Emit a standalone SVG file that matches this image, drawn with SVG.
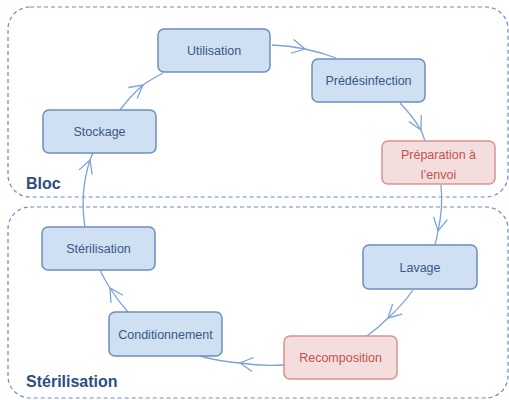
<svg xmlns="http://www.w3.org/2000/svg" width="509" height="400" viewBox="0 0 509 400">
<style>
.zone{fill:none;stroke:#6f8dba;stroke-width:1.2;stroke-dasharray:4 3}
.zl{font-family:"Liberation Sans",Arial,sans-serif;font-weight:bold;font-size:16px;fill:#2d4f80}
.n rect{fill:#cfe0f3;stroke:#6d8dbd;stroke-width:1.5}
.n text{font-family:"Liberation Sans",Arial,sans-serif;font-size:12.5px;fill:#3a5884;text-anchor:middle}
.r rect{fill:#f4dedd;stroke:#da918e}
.r text{fill:#c4504d}
.c path{fill:none;stroke:#7ba3d8;stroke-width:1.3;marker-mid:url(#chev)}
</style>
<defs>
<marker id="chev" markerUnits="userSpaceOnUse" markerWidth="30" markerHeight="30" viewBox="-15 -15 30 30" refX="0" refY="0" orient="auto" overflow="visible">
<path d="M-13 -7 L0 0 L-13 7" fill="none" stroke="#7ba3d8" stroke-width="1.3"/>
</marker>
</defs>
<rect class="zone" x="8" y="7" width="500" height="190" rx="22"/>
<rect class="zone" x="8" y="207" width="500" height="191" rx="22"/>
<text class="zl" x="26" y="189">Bloc</text>
<text class="zl" x="26" y="387">Stérilisation</text>
<g class="c">
<path d="M272 45 A180 160 0 0 1 305 49 A180 160 0 0 1 336 58"/>
<path d="M400 103 A180 160 0 0 1 421 130 A180 160 0 0 1 425 141"/>
<path d="M441 185 A180 160 0 0 1 438 231 A180 160 0 0 1 435 245"/>
<path d="M413 290 A180 160 0 0 1 388 318 A180 160 0 0 1 367 336"/>
<path d="M284 365 A180 160 0 0 1 240 363 A180 160 0 0 1 200 356"/>
<path d="M128 312 A180 160 0 0 1 110 288 A180 160 0 0 1 100 270"/>
<path d="M85 227 A180 160 0 0 1 90 160 A180 160 0 0 1 93 153"/>
<path d="M120 110 A180 160 0 0 1 143 85 A180 160 0 0 1 163 73"/>
</g>
<g id="utilisation" class="n"><rect x="158" y="29" width="112" height="43" rx="6"/><text x="214" y="55">Utilisation</text></g>
<g id="predesinfection" class="n"><rect x="312" y="59" width="113" height="43" rx="6"/><text x="368.5" y="85">Prédésinfection</text></g>
<g id="stockage" class="n"><rect x="43" y="110" width="113" height="43" rx="6"/><text x="99.5" y="136">Stockage</text></g>
<g id="preparation" class="n r"><rect x="382" y="141" width="113" height="43" rx="6"/><text x="438.5" y="159">Préparation à</text><text x="438.5" y="179">l’envoi</text></g>
<g id="sterilisation" class="n"><rect x="42" y="227" width="113" height="43" rx="6"/><text x="98.5" y="253">Stérilisation</text></g>
<g id="lavage" class="n"><rect x="363" y="245" width="114" height="44" rx="6"/><text x="420" y="272">Lavage</text></g>
<g id="conditionnement" class="n"><rect x="109" y="312" width="113" height="44" rx="6"/><text x="165.5" y="339">Conditionnement</text></g>
<g id="recomposition" class="n r"><rect x="284" y="336" width="113" height="43" rx="6"/><text x="340.5" y="362">Recomposition</text></g>
</svg>
